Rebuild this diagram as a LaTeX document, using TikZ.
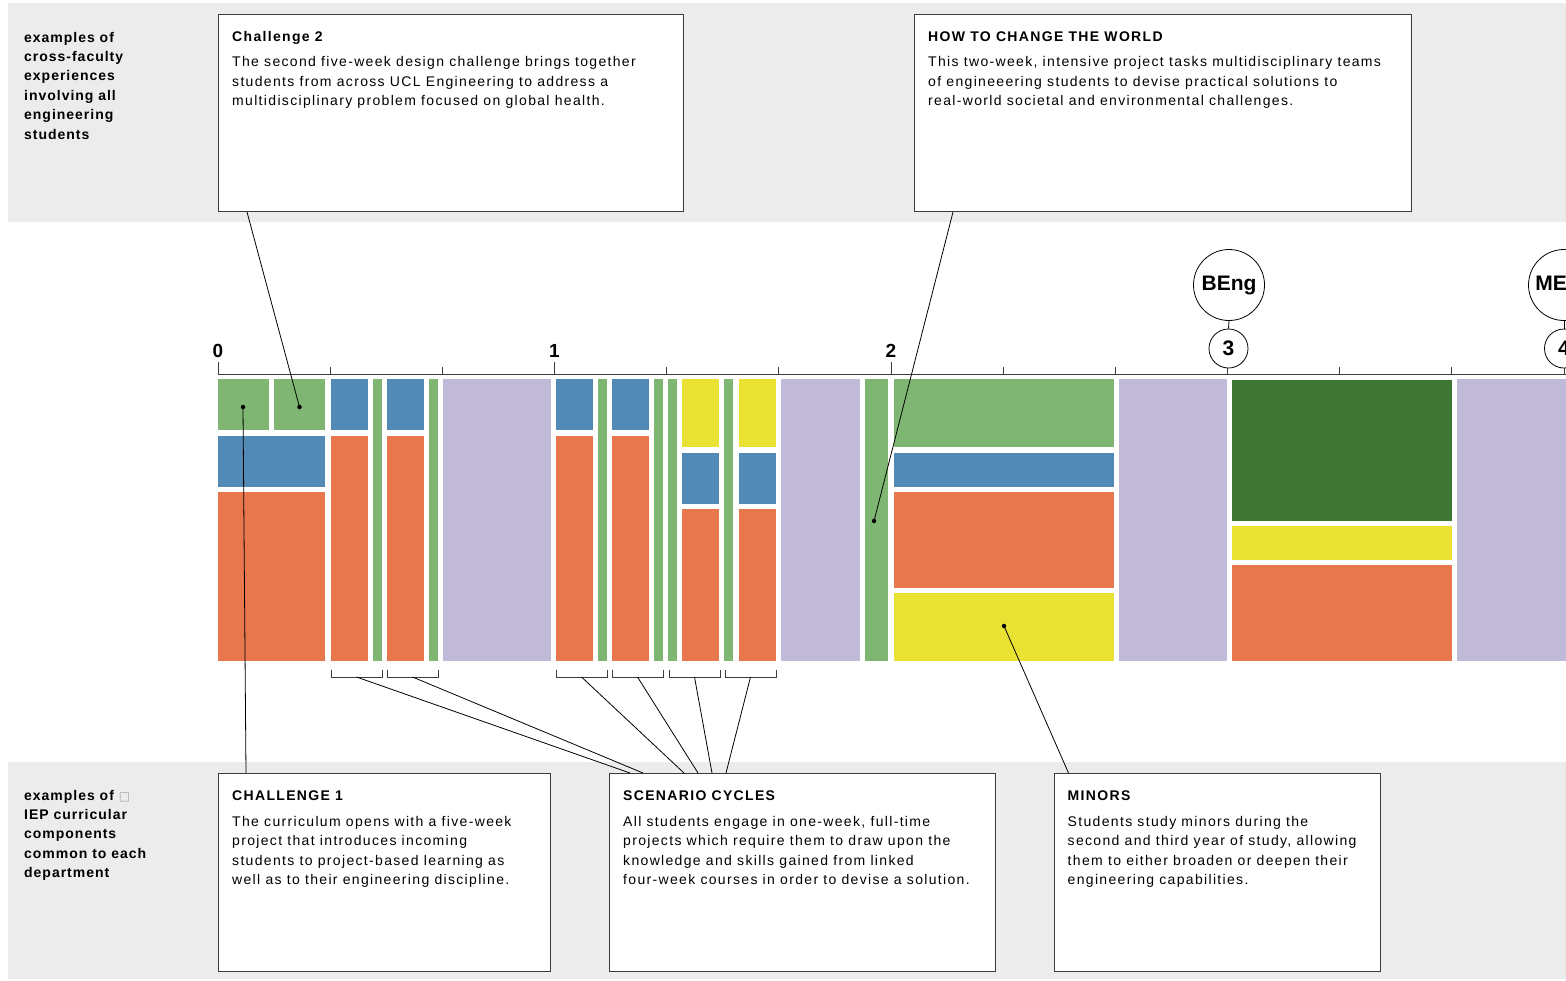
\documentclass[tikz,border=0pt]{standalone}
\usepackage{fontspec}
\setmainfont{Liberation Sans}[LetterSpace=9.5]
\newfontfamily\labelsans{Liberation Sans}[LetterSpace=7]
\newfontfamily\tightsans{Liberation Sans}
\newfontfamily\symfont{DejaVu Sans}
\usetikzlibrary{calc}

\definecolor{bandgrey}{RGB}{236,236,236}
\definecolor{cgreen}{RGB}{128,182,115}
\definecolor{cblue}{RGB}{82,137,181}
\definecolor{corange}{RGB}{233,119,78}
\definecolor{clav}{RGB}{192,185,216}
\definecolor{cyellow}{RGB}{233,226,50}
\definecolor{cdark}{RGB}{63,118,52}
\definecolor{inkgrey}{RGB}{60,60,60}

\tikzset{
  band/.style={fill=bandgrey},
  infobox/.style={draw=inkgrey, line width=1pt, fill=white, rectangle,
    inner sep=0pt, anchor=north west},
  boxtitle/.style={anchor=base west, inner sep=0pt,
    font=\fontsize{14}{19.3}\selectfont\bfseries},
  boxbody/.style={anchor=base west, inner sep=0pt,
    font=\fontsize{14}{19.3}\selectfont},
  sidelabel/.style={anchor=base west, inner sep=0pt,
    font=\labelsans\fontsize{14}{19.4}\selectfont\bfseries},
  leader/.style={draw=black, line width=0.8pt},
  dotmark/.style={circle, fill=black, inner sep=0pt, minimum size=4.5pt},
  bracket/.style={draw=inkgrey, line width=1pt},
  axis/.style={draw=inkgrey, line width=1.3pt},
  tick/.style={draw=inkgrey, line width=1pt},
  ticklabel/.style={anchor=base, inner sep=0pt,
    font=\tightsans\fontsize{19}{19}\selectfont\bfseries},
  degree/.style={circle, draw=black, line width=0.8pt, fill=white, inner sep=0pt,
    font=\tightsans\fontsize{21}{21}\selectfont\bfseries},
  G/.style={fill=cgreen}, B/.style={fill=cblue}, O/.style={fill=corange},
  L/.style={fill=clav}, Y/.style={fill=cyellow}, D/.style={fill=cdark}
}

\newcommand{\bodylines}[1]{\parbox[t]{600pt}{\raggedright\fontsize{14}{19.3}\selectfont #1}}
\newcommand{\sidelines}[1]{\parbox[t]{180pt}{\raggedright\labelsans\fontsize{14}{19.4}\selectfont\bfseries #1}}

\begin{document}
\begin{tikzpicture}[x=1pt, y=-1pt]
\useasboundingbox (0,0) rectangle (1566,980);

% grey bands behind the two rows of explanations
\fill[band] (8,3) rectangle (1566,222);
\fill[band] (8,762) rectangle (1566,979);

% row labels
\node[sidelabel] (toplabel) at (24,42) {\sidelines{examples of\\cross-faculty\\experiences\\involving all\\engineering\\students}};
\node[sidelabel] (botlabel) at (24,800) {\sidelines{examples of {\symfont\mdseries\color{black!35}\fontsize{12}{12}\selectfont □}\\IEP curricular\\components\\common to each\\department}};

% timeline axis: one tick per term, longer ticks at whole years
\draw[axis] (218,374.5) -- (1566,374.5);
\foreach \i in {0,...,12}{
  \pgfmathsetmacro{\tx}{218+\i*112.17}
  \draw[tick] (\tx,374.5) -- (\tx,367);
}
\foreach \i/\lab in {0/0,3/1,6/2}{
  \pgfmathsetmacro{\tx}{218+\i*112.17}
  \draw[tick] (\tx,374.5) -- (\tx,362);
  \node[ticklabel] (yr\lab) at (\tx,357) {\lab};
}

% degree markers
\node[degree, minimum size=39pt] (y3) at (1228.5,348.5) {3};
\node[degree, minimum size=71pt] (beng) at (1229,285) {BEng};
\draw[line width=0.8pt] (beng.south) -- (y3.north);
\node[degree, minimum size=39pt] (y4) at (1564,348.5) {4};
\node[degree, minimum size=71pt] (meng) at (1564,285) {MEng};
\draw[line width=0.8pt] (meng.south) -- (y4.north);

% first year: challenge 1, scenario cycles, break
\fill[G] (218,379) rectangle (269,430);
\fill[G] (274,379) rectangle (325,430);
\fill[B] (218,436) rectangle (325,487);
\fill[O] (218,492) rectangle (325,661);
\fill[B] (331,379) rectangle (368,430);
\fill[O] (331,436) rectangle (368,661);
\fill[G] (373,379) rectangle (382,661);
\fill[B] (387,379) rectangle (424,430);
\fill[O] (387,436) rectangle (424,661);
\fill[G] (429,379) rectangle (438,661);
\fill[L] (443,379) rectangle (551,661);
\fill[B] (556,379) rectangle (593,430);
\fill[O] (556,436) rectangle (593,661);
\fill[G] (598,379) rectangle (607,661);
\fill[B] (612,379) rectangle (649,430);
\fill[O] (612,436) rectangle (649,661);
\fill[G] (654,379) rectangle (663,661);
\fill[G] (668,379) rectangle (677,661);
\fill[Y] (682,379) rectangle (719,447);
\fill[B] (682,453) rectangle (719,504);
\fill[O] (682,509) rectangle (719,661);
\fill[G] (724,379) rectangle (733,661);
\fill[Y] (739,379) rectangle (776,447);
\fill[B] (739,453) rectangle (776,504);
\fill[O] (739,509) rectangle (776,661);
\fill[L] (781,379) rectangle (860,661);
% second year
\fill[G] (865,379) rectangle (888,661);
\fill[G] (894,379) rectangle (1114,447);
\fill[B] (894,453) rectangle (1114,487);
\fill[O] (894,492) rectangle (1114,588);
\fill[Y] (894,593) rectangle (1114,661);
\fill[L] (1119,379) rectangle (1227,661);
% third year and beyond
\fill[D] (1232,380) rectangle (1452,521);
\fill[Y] (1232,526) rectangle (1452,560);
\fill[O] (1232,565) rectangle (1452,661);
\fill[L] (1457,379) rectangle (1566,661);

% scenario cycle brackets
\foreach \a/\b/\n in {331/382/1, 387/438/2, 556/607/3, 612/663/4, 669/720/5, 725/776/6}{
  \draw[bracket] (\a,669.5) |- (\b,677) -- (\b,669.5);
  \coordinate (br\n) at ({(\a+\b)/2},677);
}

% explanation boxes
\node[infobox, minimum width=465pt, minimum height=197pt] (chal2) at (218,14) {};
\node[infobox, minimum width=497pt, minimum height=197pt] (htcw) at (914,14) {};
\node[infobox, minimum width=332pt, minimum height=198pt] (chal1) at (218,773) {};
\node[infobox, minimum width=386pt, minimum height=198pt] (scen) at (609,773) {};
\node[infobox, minimum width=326pt, minimum height=198pt] (minors) at (1053.5,773) {};

\node[boxtitle] (chal2t) at ($(chal2.north west)+(14,27.7)$) {Challenge 2};
\node[boxbody] (chal2b) at ($(chal2.north west)+(14,52.7)$) {\bodylines{The second five-week design challenge brings together\\students from across UCL Engineering to address a\\multidisciplinary problem focused on global health.}};

\node[boxtitle] (htcwt) at ($(htcw.north west)+(14,27.7)$) {HOW TO CHANGE THE WORLD};
\node[boxbody] (htcwb) at ($(htcw.north west)+(14,52.7)$) {\bodylines{This two-week, intensive project tasks multidisciplinary teams\\of engineeering students to devise practical solutions to\\real-world societal and environmental challenges.}};

\node[boxtitle] (chal1t) at ($(chal1.north west)+(14,27)$) {CHALLENGE 1};
\node[boxbody] (chal1b) at ($(chal1.north west)+(14,53.5)$) {\bodylines{The curriculum opens with a five-week\\project that introduces incoming\\students to project-based learning as\\well as to their engineering discipline.}};

\node[boxtitle] (scent) at ($(scen.north west)+(14,27)$) {SCENARIO CYCLES};
\node[boxbody] (scenb) at ($(scen.north west)+(14,53.5)$) {\bodylines{All students engage in one-week, full-time\\projects which require them to draw upon the\\knowledge and skills gained from linked\\four-week courses in order to devise a solution.}};

\node[boxtitle] (minorst) at ($(minors.north west)+(14,27)$) {MINORS};
\node[boxbody] (minorsb) at ($(minors.north west)+(14,53.5)$) {\bodylines{Students study minors during the\\second and third year of study, allowing\\them to either broaden or deepen their\\engineering capabilities.}};

% leader end points on the boxes
\coordinate (chal2foot) at ($(chal2.south west)+(29,0)$);
\coordinate (htcwfoot) at ($(htcw.south west)+(39,0)$);
\coordinate (chal1head) at ($(chal1.north west)+(28,0)$);
\coordinate (minorshead) at ($(minors.north west)+(15,0)$);
\foreach \n/\dx in {1/21, 2/34, 3/75, 4/89, 5/103, 6/117}{
  \coordinate (scenhead\n) at ($(scen.north west)+(\dx,0)$);
}

% marked blocks
\node[dotmark] (dot1) at (243,407) {};
\node[dotmark] (dot2) at (299.5,407) {};
\node[dotmark] (dot3) at (874,521) {};
\node[dotmark] (dot4) at (1004,626) {};

% leaders
\draw[leader] (dot1.center) -- (chal1head);
\draw[leader] (dot2.center) -- (chal2foot);
\draw[leader] (dot3.center) -- (htcwfoot);
\draw[leader] (dot4.center) -- (minorshead);
\foreach \n in {1,...,6}{
  \draw[leader] (br\n) -- (scenhead\n);
}
\end{tikzpicture}
\end{document}
